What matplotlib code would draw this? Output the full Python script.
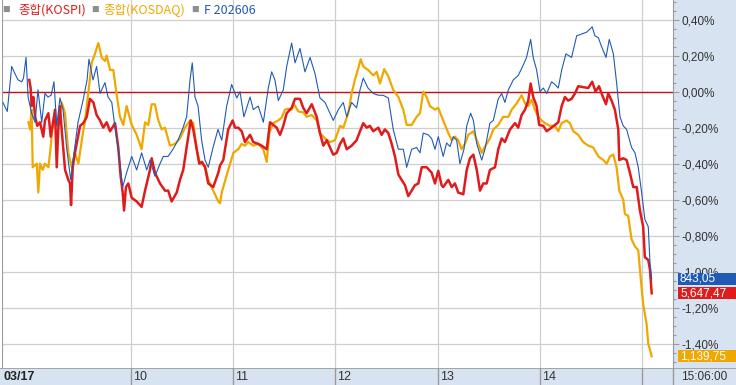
"""Intraday percent-change chart of KOSPI, KOSDAQ and KOSPI200 futures."""

import matplotlib
matplotlib.use('agg')
from matplotlib import pyplot
from matplotlib import transforms
from matplotlib.patches import Rectangle
from matplotlib.ticker import MultipleLocator

OUTPUT_FILE_NAME = 'out.png'
FIGURE_WIDTH_PX = 736
FIGURE_HEIGHT_PX = 385
FIGURE_RESOLUTION_DPI = 100

# Minutes after 09:00, percent change vs. previous close.
FUTURES_MINUTES = [
    -15.0, -12.4, -9.8, -7.9, -6.1, -3.9, -2.9, -1.4, -0.2, 1.9, 3.9, 5.6,
    7.8, 9.7, 11.5, 13.3, 15.0, 16.6, 18.5, 20.3, 22.5, 24.8, 26.2, 29.1,
    32.0, 34.4, 35.5, 37.9, 40.0, 42.0, 44.9, 46.7, 48.9, 50.8, 52.5, 55.3,
    57.6, 60.6, 63.5, 66.4, 69.4, 71.3, 74.2, 77.2, 79.1, 81.9, 84.8, 87.7,
    90.7, 92.8, 94.8, 96.1, 97.7, 99.5, 101.6, 103.6, 105.5, 108.3, 111.2,
    113.4, 116.3, 119.2, 122.2, 124.1, 126.4, 130.0, 131.9, 134.8, 137.8,
    140.7, 142.7, 144.6, 146.6, 149.5, 151.5, 154.4, 156.4, 159.3, 162.2,
    165.2, 168.1, 171.0, 174.0, 176.9, 178.8, 181.8, 184.7, 186.7, 189.6,
    192.5, 194.5, 196.4, 199.2, 202.3, 205.2, 208.0, 211.1, 214.0, 217.0,
    219.9, 221.9, 224.8, 227.7, 229.7, 231.6, 234.5, 236.5, 238.5, 240.4,
    243.3, 245.3, 247.3, 249.2, 251.2, 253.1, 255.5, 257.1, 259.4, 261.0,
    263.0, 265.9, 267.8, 270.7, 272.7, 275.6, 277.6, 279.5, 281.5, 284.4,
    287.3, 289.9, 292.2, 294.6, 296.1, 298.1, 300.1, 302.0, 304.0, 306.9,
    308.8, 310.8, 312.8, 315.3, 318.6, 321.6, 324.5, 327.4, 330.7, 332.3,
    334.3, 336.2, 338.8, 340.7, 343.1, 345.0, 347.0, 348.9, 350.9, 353.8,
    355.8, 357.7, 359.7, 361.6, 363.6, 364.6, 365.6
]
FUTURES_PERCENT = [
    -0.06, -0.11, 0.14, 0.10, 0.065, 0.055, 0.075, 0.19, -0.03, -0.12, -0.17,
    0.01, -0.17, -0.01, -0.03, -0.02, 0.055, -0.19, -0.035, -0.10, -0.32,
    -0.49, -0.38, -0.17, -0.05, 0.065, 0.18, 0.065, 0.14, -0.01, 0.05, -0.03,
    -0.06, -0.20, -0.31, -0.53, -0.45, -0.36, -0.435, -0.34, -0.435, -0.38,
    -0.47, -0.40, -0.36, -0.36, -0.32, -0.27, -0.20, -0.14, 0.065, 0.16,
    -0.03, -0.08, -0.27, -0.38, -0.42, -0.31, -0.21, -0.27, -0.08, 0.04,
    -0.035, 0.0, -0.14, -0.03, -0.10, -0.08, -0.17, 0.02, 0.11, 0.065, -0.05,
    0.01, 0.14, 0.27, 0.16, 0.24, 0.11, 0.19, 0.10, -0.035, -0.06, -0.12,
    -0.16, -0.10, -0.06, -0.14, -0.06, -0.09, 0.01, 0.075, 0.02, -0.01,
    -0.02, -0.02, -0.035, -0.21, -0.32, -0.32, -0.42, -0.32, -0.31, -0.34,
    -0.23, -0.24, -0.26, -0.32, -0.25, -0.36, -0.285, -0.305, -0.25, -0.27,
    -0.40, -0.32, -0.19, -0.12, -0.16, -0.29, -0.38, -0.32, -0.175, -0.16,
    -0.04, -0.01, -0.06, 0.01, 0.065, 0.09, 0.14, 0.19, 0.29, 0.19, 0.12,
    0.0, 0.02, -0.01, 0.055, 0.04, 0.02, 0.12, 0.21, 0.19, 0.31, 0.32, 0.33,
    0.36, 0.31, 0.30, 0.25, 0.19, 0.29, 0.21, 0.05, -0.14, -0.19, -0.21,
    -0.31, -0.34, -0.42, -0.56, -0.71, -0.75, -0.95, -1.04
]

KOSPI_MINUTES = [
    0.5, 1.3, 1.9, 2.9, 3.9, 5.2, 6.8, 8.7, 9.7, 11.7, 13.1, 14.6, 15.6,
    16.6, 17.5, 18.5, 19.5, 21.5, 23.4, 24.4, 25.0, 26.0, 27.3, 30.3, 32.2,
    34.2, 36.1, 38.1, 40.0, 42.0, 43.9, 45.9, 47.9, 50.8, 52.7, 54.1, 55.3,
    56.1, 57.2, 58.6, 60.6, 63.5, 66.4, 68.4, 71.3, 72.3, 74.2, 77.2, 80.1,
    82.0, 84.0, 87.0, 88.9, 90.8, 92.8, 95.2, 96.7, 98.7, 100.2, 101.8,
    103.6, 105.5, 108.4, 111.4, 112.4, 114.3, 117.2, 119.8, 121.2, 123.1,
    125.1, 127.0, 130.0, 131.9, 134.8, 136.8, 139.8, 141.7, 143.6, 145.6,
    147.6, 149.5, 151.5, 154.4, 156.4, 159.3, 161.2, 163.2, 166.2, 169.1,
    171.0, 173.0, 175.0, 176.9, 178.8, 180.8, 182.8, 184.7, 186.7, 189.6,
    192.5, 194.5, 196.4, 198.4, 200.3, 202.3, 205.2, 207.2, 209.1, 211.1,
    213.1, 215.0, 217.0, 218.9, 220.9, 222.8, 224.8, 226.7, 228.7, 230.7,
    233.6, 236.5, 238.5, 240.4, 242.4, 243.3, 246.3, 248.3, 250.2, 252.1,
    255.1, 257.1, 259.0, 261.0, 263.0, 264.9, 266.8, 268.8, 270.7, 273.7,
    275.6, 277.6, 279.5, 282.5, 285.4, 287.3, 289.3, 291.3, 293.2, 294.6,
    296.1, 298.1, 299.6, 302.0, 304.0, 306.9, 308.8, 310.8, 312.8, 314.7,
    316.6, 318.6, 320.6, 322.5, 325.4, 328.4, 330.7, 332.7, 334.7, 336.6,
    338.8, 340.1, 342.1, 344.0, 346.0, 346.6, 348.9, 350.9, 352.8, 354.8,
    356.8, 358.7, 360.6, 361.6, 363.6, 364.6, 365.6
]
KOSPI_PERCENT = [
    0.065, 0.02, -0.08, -0.03, -0.14, -0.19, -0.17, -0.25, -0.16, -0.12,
    -0.25, -0.16, -0.10, -0.42, -0.21, -0.08, -0.21, -0.435, -0.49, -0.51,
    -0.63, -0.42, -0.34, -0.19, -0.175, -0.14, -0.04, -0.06, -0.13, -0.16,
    -0.20, -0.17, -0.22, -0.175, -0.31, -0.47, -0.56, -0.66, -0.53, -0.51,
    -0.59, -0.61, -0.64, -0.55, -0.435, -0.37, -0.45, -0.51, -0.55, -0.55,
    -0.61, -0.56, -0.49, -0.435, -0.31, -0.16, -0.21, -0.32, -0.40, -0.39,
    -0.42, -0.51, -0.53, -0.45, -0.41, -0.38, -0.21, -0.16, -0.20, -0.20,
    -0.22, -0.28, -0.24, -0.28, -0.29, -0.30, -0.32, -0.17, -0.185, -0.20,
    -0.24, -0.19, -0.12, -0.09, -0.04, -0.04, -0.09, -0.12, -0.07, -0.14,
    -0.23, -0.30, -0.27, -0.31, -0.35, -0.34, -0.29, -0.26, -0.32, -0.30,
    -0.27, -0.22, -0.175, -0.20, -0.19, -0.22, -0.20, -0.24, -0.21, -0.23,
    -0.29, -0.36, -0.46, -0.49, -0.52, -0.58, -0.55, -0.52, -0.51, -0.42,
    -0.42, -0.45, -0.51, -0.44, -0.52, -0.53, -0.49, -0.53, -0.51, -0.56,
    -0.57, -0.435, -0.37, -0.35, -0.435, -0.55, -0.51, -0.51, -0.435, -0.42,
    -0.32, -0.26, -0.28, -0.21, -0.175, -0.20, -0.13, -0.10, -0.05, 0.045,
    -0.03, -0.08, -0.185, -0.19, -0.22, -0.20, -0.185, -0.17, -0.08, -0.03,
    -0.05, -0.04, -0.01, 0.03, 0.025, 0.02, 0.055, 0.0, 0.03, -0.02,
    -0.07, -0.01, -0.05, -0.10, -0.21, -0.38, -0.37, -0.38, -0.45, -0.53,
    -0.53, -0.66, -0.75, -0.92, -0.935, -0.99, -1.12
]

KOSDAQ_MINUTES = [
    0.0, 1.0, 1.9, 2.5, 4.9, 5.8, 6.8, 8.4, 9.7, 11.7, 12.7, 14.0, 15.6,
    17.5, 19.5, 21.5, 23.4, 25.4, 27.3, 29.3, 31.3, 33.2, 35.1, 37.1, 39.0,
    41.0, 43.0, 44.9, 45.9, 47.9, 49.8, 51.8, 53.7, 55.7, 57.6, 60.6, 63.5,
    66.4, 68.4, 70.3, 72.3, 74.2, 76.2, 78.2, 80.1, 83.0, 86.0, 88.9, 91.8,
    94.8, 96.7, 98.7, 100.6, 103.6, 105.5, 108.4, 111.4, 112.4, 113.4,
    114.3, 117.2, 120.2, 123.1, 125.1, 127.0, 129.0, 131.9, 134.8, 137.8,
    139.8, 141.3, 143.6, 146.6, 148.5, 150.5, 152.4, 154.4, 155.8, 158.3,
    161.2, 163.2, 166.2, 169.1, 171.0, 174.0, 176.9, 179.8, 182.8, 184.7,
    187.6, 189.6, 191.5, 193.5, 194.9, 196.4, 199.3, 202.3, 204.3, 206.2,
    208.7, 211.1, 214.0, 217.0, 219.9, 221.9, 224.8, 227.7, 229.7, 231.6,
    233.6, 235.5, 238.5, 240.4, 243.3, 246.3, 248.3, 250.2, 252.1, 254.1,
    256.1, 258.0, 261.0, 263.0, 265.9, 267.8, 270.7, 272.7, 275.6, 278.5,
    281.5, 283.5, 286.4, 289.3, 291.3, 293.2, 295.2, 297.1, 299.1, 301.0,
    303.0, 305.9, 308.8, 310.8, 312.8, 315.7, 317.6, 319.6, 322.5, 325.4,
    328.4, 331.3, 334.3, 337.2, 339.2, 341.1, 343.1, 345.0, 346.6, 348.9,
    349.9, 351.8, 353.8, 355.8, 357.7, 359.1, 360.6, 362.6, 363.6, 365.6
]
KOSDAQ_PERCENT = [
    -0.17, -0.21, -0.10, -0.42, -0.40, -0.56, -0.40, -0.435, -0.40, -0.42,
    -0.34, -0.21, -0.16, -0.19, -0.06, -0.12, -0.34, -0.42, -0.34, -0.40,
    -0.27, -0.16, -0.01, 0.16, 0.21, 0.27, 0.19, 0.17, 0.20, 0.12, 0.12,
    -0.02, -0.14, -0.185, -0.08, -0.185, -0.24, -0.32, -0.17, -0.185, -0.07,
    -0.07, -0.16, -0.21, -0.20, -0.30, -0.29, -0.26, -0.20, -0.16, -0.175,
    -0.32, -0.40, -0.41, -0.49, -0.55, -0.61, -0.62, -0.56, -0.53, -0.435,
    -0.34, -0.32, -0.29, -0.30, -0.28, -0.30, -0.29, -0.32, -0.39, -0.23,
    -0.175, -0.16, -0.145, -0.10, -0.095, -0.10, -0.07, -0.11, -0.115, -0.14,
    -0.13, -0.16, -0.23, -0.26, -0.28, -0.27, -0.19, -0.20, -0.12, -0.01,
    0.065, 0.13, 0.18, 0.14, 0.12, 0.09, 0.11, 0.045, 0.125, 0.085, 0.01,
    -0.03, -0.10, -0.185, -0.185, -0.14, -0.12, 0.0, -0.03, -0.08, -0.10,
    -0.09, -0.16, -0.23, -0.27, -0.25, -0.27, -0.32, -0.29, -0.24, -0.22,
    -0.27, -0.34, -0.305, -0.26, -0.21, -0.185, -0.14, -0.14, -0.10, -0.065,
    -0.02, -0.065, -0.08, -0.045, -0.10, -0.14, -0.16, -0.175, -0.19, -0.19,
    -0.22, -0.175, -0.16, -0.175, -0.22, -0.24, -0.28, -0.30, -0.31, -0.36,
    -0.38, -0.40, -0.36, -0.35, -0.42, -0.55, -0.60, -0.68, -0.69, -0.82,
    -0.86, -0.88, -1.03, -1.18, -1.29, -1.40, -1.47
]

SERIES_NAMES = ['종합(KOSPI)', '종합(KOSDAQ)', 'F 202606']
LAST_PRICE_STRINGS = ['5,647,47', '1,139,75', '843,05']
DATE_STRING = '03/17'
LAST_TIME_STRING = '15:06:00'
HOUR_LABELS = ['10', '11', '12', '13', '14', '']

KOSPI_COLOUR = '#e01b1b'
KOSDAQ_COLOUR = '#f0a800'
FUTURES_COLOUR = '#1f5bb5'
ZERO_LINE_COLOUR = '#c81010'
PANEL_COLOUR = '#d7e3f1'
GRID_COLOUR = '#cfcfcf'
FRAME_COLOUR = '#9a9a9a'

AXIS_FONT = ['Liberation Sans', 'DejaVu Sans']
LEGEND_FONT = ['Noto Sans CJK KR', 'DejaVu Sans']
AXIS_FONT_SIZE = 8.5

X_LIMITS_MINUTES = [-15.5, 378.1]
Y_LIMITS_PERCENT = [-1.535, 0.509]


def _format_percent(value):
    """Formats tick value like "-0,20%"."""

    return '{0:.2f}%'.format(value).replace('.', ',')


def _run():
    """Draws the chart and saves it to out.png."""

    figure_object = pyplot.figure(
        figsize=(FIGURE_WIDTH_PX / FIGURE_RESOLUTION_DPI,
                 FIGURE_HEIGHT_PX / FIGURE_RESOLUTION_DPI),
        dpi=FIGURE_RESOLUTION_DPI, facecolor=PANEL_COLOUR
    )

    left = 2. / FIGURE_WIDTH_PX
    width = 671. / FIGURE_WIDTH_PX
    band_height = 17. / FIGURE_HEIGHT_PX

    figure_object.patches.append(Rectangle(
        (0, band_height), left, 1 - band_height,
        transform=figure_object.transFigure,
        facecolor='white', edgecolor='none'
    ))

    axes_object = figure_object.add_axes(
        [left, band_height, width, 1 - band_height]
    )
    axes_object.set_facecolor('white')

    hour_minutes = [60 * (i + 1) for i in range(len(HOUR_LABELS))]
    for this_minute in hour_minutes:
        axes_object.axvline(this_minute, color=GRID_COLOUR, linewidth=0.9,
                            zorder=1)

    axes_object.set_xlim(X_LIMITS_MINUTES)
    axes_object.set_ylim(Y_LIMITS_PERCENT)
    axes_object.yaxis.set_major_locator(MultipleLocator(0.2))
    axes_object.yaxis.set_minor_locator(MultipleLocator(0.05))
    axes_object.grid(True, axis='y', which='major', color=GRID_COLOUR,
                     linewidth=0.9, zorder=1)
    axes_object.set_axisbelow(True)

    axes_object.axhline(0, color=ZERO_LINE_COLOUR, linewidth=1.0, zorder=2)

    axes_object.plot(KOSDAQ_MINUTES, KOSDAQ_PERCENT, color=KOSDAQ_COLOUR,
                     linewidth=1.6, zorder=3)
    axes_object.plot(KOSPI_MINUTES, KOSPI_PERCENT, color=KOSPI_COLOUR,
                     linewidth=1.8, zorder=4)
    axes_object.plot(FUTURES_MINUTES, FUTURES_PERCENT, color=FUTURES_COLOUR,
                     linewidth=0.8, zorder=5)

    axes_object.set_xticks([])
    axes_object.yaxis.tick_right()
    axes_object.tick_params(axis='y', which='major', direction='out',
                            length=4.5, width=0.8, color=FRAME_COLOUR,
                            pad=1.5, labelsize=AXIS_FONT_SIZE,
                            labelcolor='#333333')
    axes_object.tick_params(axis='y', which='minor', direction='out',
                            length=2.2, width=0.8, color=FRAME_COLOUR)
    tick_values = axes_object.get_yticks()
    tick_values = [v for v in tick_values
                   if Y_LIMITS_PERCENT[0] < v < Y_LIMITS_PERCENT[1]]
    axes_object.set_yticks(tick_values)
    axes_object.set_yticklabels([_format_percent(v) for v in tick_values],
                                family=AXIS_FONT)

    for spine_name in ['top', 'bottom']:
        axes_object.spines[spine_name].set_visible(False)
    axes_object.spines['left'].set_color(FRAME_COLOUR)
    axes_object.spines['right'].set_color(FRAME_COLOUR)

    # Last-price boxes in the right-hand panel.
    box_transform = transforms.blended_transform_factory(
        figure_object.transFigure, axes_object.transData
    )
    box_height = 12. / 368 * (Y_LIMITS_PERCENT[1] - Y_LIMITS_PERCENT[0])
    last_values = [KOSPI_PERCENT[-1], KOSDAQ_PERCENT[-1], FUTURES_PERCENT[-1]]
    colours = [KOSPI_COLOUR, KOSDAQ_COLOUR, FUTURES_COLOUR]
    box_x = 678. / FIGURE_WIDTH_PX
    for this_value, this_string, this_colour in zip(
            last_values, LAST_PRICE_STRINGS, colours):
        axes_object.add_patch(Rectangle(
            (box_x, this_value - box_height / 2), 1 - box_x, box_height,
            transform=box_transform, facecolor=this_colour, edgecolor='none',
            clip_on=False, zorder=10
        ))
        axes_object.text(
            680. / FIGURE_WIDTH_PX, this_value, this_string,
            transform=box_transform, color='white', fontsize=AXIS_FONT_SIZE,
            family=AXIS_FONT, ha='left', va='center', clip_on=False,
            zorder=11
        )

    # Legend across the top.
    legend_y = 1 - 10. / FIGURE_HEIGHT_PX
    legend_x_px = [[6, 18], [95, 103], [195, 204]]
    for (square_x, text_x), this_name, this_colour in zip(
            legend_x_px, SERIES_NAMES, colours):
        figure_object.text(square_x / FIGURE_WIDTH_PX, legend_y, '■',
                           color='#8f8f8f', fontsize=5.5, ha='center',
                           va='center', family=LEGEND_FONT)
        figure_object.text(text_x / FIGURE_WIDTH_PX, legend_y, this_name,
                           color=this_colour, fontsize=9, ha='left',
                           va='center', family=LEGEND_FONT)

    # Time band along the bottom.
    band_axes = figure_object.add_axes([0, 0, 1, band_height])
    band_axes.set_facecolor(PANEL_COLOUR)
    band_axes.set_xlim(0, 1)
    band_axes.set_ylim(0, 1)
    band_axes.axis('off')
    band_axes.axhline(1, color=FRAME_COLOUR, linewidth=1.2)

    data_to_fig = axes_object.transData + figure_object.transFigure.inverted()
    for this_minute, this_label in zip(hour_minutes, HOUR_LABELS):
        fig_x = data_to_fig.transform((this_minute, 0))[0]
        band_axes.axvline(fig_x, color=FRAME_COLOUR, linewidth=1.0)
        band_axes.text(fig_x + 2. / FIGURE_WIDTH_PX, 0.45, this_label,
                       fontsize=AXIS_FONT_SIZE + 0.5, color='#333333',
                       ha='left', va='center', family=AXIS_FONT)
    band_axes.axvline(left + width, color=FRAME_COLOUR, linewidth=1.0)
    band_axes.text(4. / FIGURE_WIDTH_PX, 0.45, DATE_STRING,
                   fontsize=AXIS_FONT_SIZE + 0.5, fontweight='bold',
                   color='#222222', ha='left', va='center', family=AXIS_FONT)
    band_axes.text(704. / FIGURE_WIDTH_PX, 0.45, LAST_TIME_STRING,
                   fontsize=AXIS_FONT_SIZE, color='#333333', ha='center',
                   va='center', family=AXIS_FONT)

    figure_object.savefig(OUTPUT_FILE_NAME, dpi=FIGURE_RESOLUTION_DPI,
                          facecolor=PANEL_COLOUR)
    pyplot.close(figure_object)


if __name__ == '__main__':
    _run()
